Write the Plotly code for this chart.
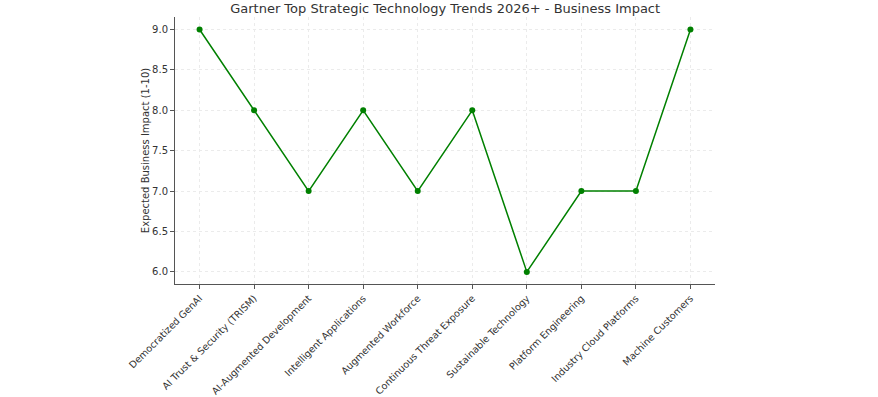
import plotly.graph_objects as go

trends = ["Democratized GenAI", "AI Trust & Security (TRISM)", "AI-Augmented Development",
          "Intelligent Applications", "Augmented Workforce", "Continuous Threat Exposure",
          "Sustainable Technology", "Platform Engineering", "Industry Cloud Platforms",
          "Machine Customers"]
impact = [9, 8, 7, 8, 7, 8, 6, 7, 7, 9]

fig = go.Figure(go.Scatter(
    x=list(range(len(trends))), y=impact, mode="lines+markers",
    line=dict(color="#008000", width=1.5),
    marker=dict(color="#008000", size=6),
))

font = "DejaVu Sans, Verdana, sans-serif"
fig.update_layout(
    width=878, height=397,
    margin=dict(l=175, r=163, t=17, b=113),
    paper_bgcolor="white", plot_bgcolor="white",
    font=dict(family=font, size=9.6, color="#333333"),
    showlegend=False,
    title=dict(text="Gartner Top Strategic Technology Trends 2026+ - Business Impact",
               x=0.507, xanchor="center", y=0.978, yanchor="middle",
               font=dict(size=13, color="#333333")),
)
fig.update_xaxes(
    range=[-0.45, 9.45], tickmode="array", tickvals=list(range(len(trends))), ticktext=trends,
    tickangle=-45, showline=True, linecolor="#555555", linewidth=1,
    ticks="outside", ticklen=4, tickcolor="#555555", automargin=False,
    showgrid=True, gridcolor="#ebebeb", griddash="dot", gridwidth=1, zeroline=False,
)
fig.update_yaxes(
    range=[5.85, 9.155], tickvals=[6.0, 6.5, 7.0, 7.5, 8.0, 8.5, 9.0],
    ticktext=["6.0", "6.5", "7.0", "7.5", "8.0", "8.5", "9.0"],
    tickfont=dict(size=10),
    showline=True, linecolor="#555555", linewidth=1,
    ticks="outside", ticklen=4, tickcolor="#555555", automargin=False,
    showgrid=True, gridcolor="#ebebeb", griddash="dot", gridwidth=1, zeroline=False,
    title=dict(text="Expected Business Impact (1-10)", font=dict(size=10), standoff=0),
)

fig.write_html("out.html", config={"displayModeBar": False},
               post_script="document.body.style.margin='0';document.body.style.overflow='hidden';")
